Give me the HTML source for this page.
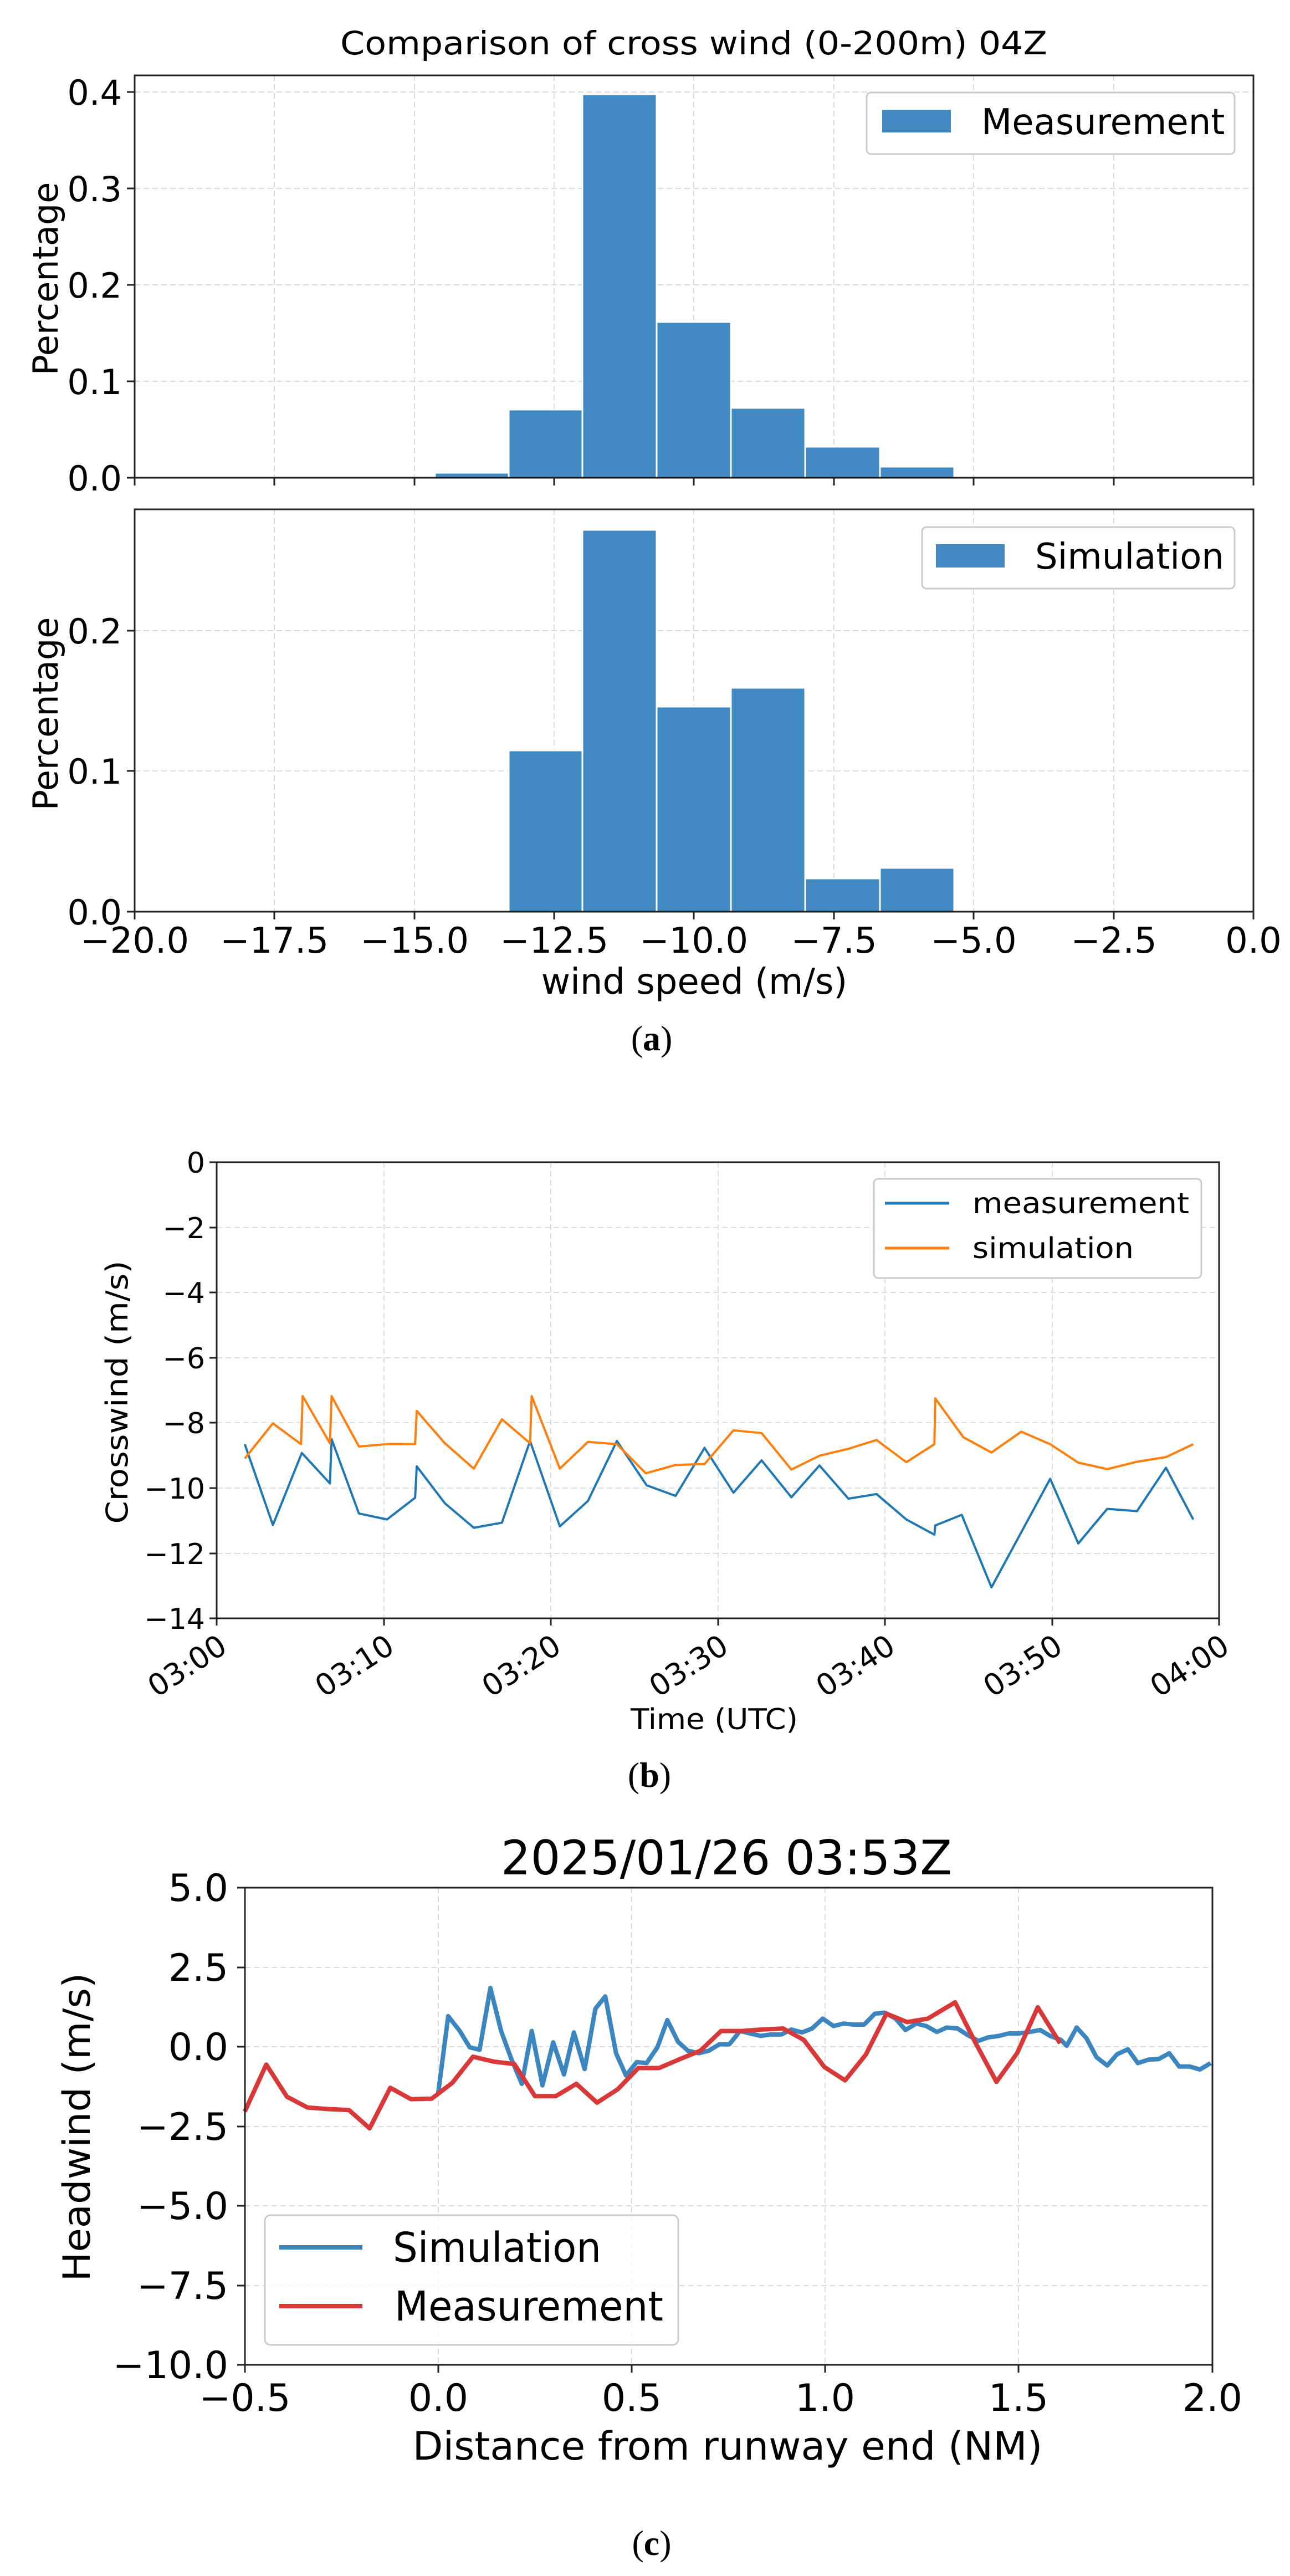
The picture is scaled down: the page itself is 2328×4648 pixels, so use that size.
<!DOCTYPE html>
<html><head><meta charset="utf-8"><style>html,body{margin:0;padding:0;background:#fff}svg{display:block}</style></head>
<body>
<svg xmlns="http://www.w3.org/2000/svg" width="2328" height="4648" viewBox="0 0 2328 4648" font-family="DejaVu Sans, Liberation Sans, sans-serif">
<rect width="2328" height="4648" fill="#fff"/>

<!-- ============ PANEL A ============ -->
<text x="1252" y="98" font-size="58" text-anchor="middle" textLength="1276" lengthAdjust="spacingAndGlyphs">Comparison of cross wind (0-200m) 04Z</text>

<g stroke="#ddd" stroke-width="2" stroke-dasharray="10,6">
<line x1="495" y1="136" x2="495" y2="862"/><line x1="748" y1="136" x2="748" y2="862"/><line x1="1000" y1="136" x2="1000" y2="862"/><line x1="1252" y1="136" x2="1252" y2="862"/><line x1="1505" y1="136" x2="1505" y2="862"/><line x1="1757" y1="136" x2="1757" y2="862"/><line x1="2010" y1="136" x2="2010" y2="862"/>
<line x1="243" y1="688" x2="2262" y2="688"/><line x1="243" y1="514" x2="2262" y2="514"/><line x1="243" y1="340" x2="2262" y2="340"/><line x1="243" y1="166" x2="2262" y2="166"/>
</g>
<g fill="#4189c1" stroke="#fff" stroke-width="3">
<rect x="785" y="853" width="133" height="9"/>
<rect x="918" y="739" width="133" height="123"/>
<rect x="1051" y="170" width="134" height="692"/>
<rect x="1185" y="581" width="134" height="281"/>
<rect x="1319" y="736" width="134" height="126"/>
<rect x="1453" y="806" width="135" height="56"/>
<rect x="1588" y="842" width="134" height="20"/>
</g>
<rect x="243" y="136" width="2019" height="726" fill="none" stroke="#222" stroke-width="3"/>
<g stroke="#222" stroke-width="3">
<line x1="243" y1="862" x2="243" y2="876"/><line x1="495" y1="862" x2="495" y2="876"/><line x1="748" y1="862" x2="748" y2="876"/><line x1="1000" y1="862" x2="1000" y2="876"/><line x1="1252" y1="862" x2="1252" y2="876"/><line x1="1505" y1="862" x2="1505" y2="876"/><line x1="1757" y1="862" x2="1757" y2="876"/><line x1="2010" y1="862" x2="2010" y2="876"/><line x1="2262" y1="862" x2="2262" y2="876"/>
<line x1="229" y1="862" x2="243" y2="862"/><line x1="229" y1="688" x2="243" y2="688"/><line x1="229" y1="514" x2="243" y2="514"/><line x1="229" y1="340" x2="243" y2="340"/><line x1="229" y1="166" x2="243" y2="166"/>
</g>
<g font-size="62" text-anchor="end">
<text x="220" y="885">0.0</text><text x="220" y="711">0.1</text><text x="220" y="537">0.2</text><text x="220" y="363">0.3</text><text x="220" y="189">0.4</text>
</g>
<text transform="translate(104,503) rotate(-90)" font-size="62" text-anchor="middle">Percentage</text>
<rect x="1564" y="167" width="664" height="111" rx="8" fill="#fff" stroke="#ccc" stroke-width="3"/>
<rect x="1592" y="198" width="124" height="41" fill="#4189c1"/>
<text x="1771" y="242" font-size="64">Measurement</text>

<g stroke="#ddd" stroke-width="2" stroke-dasharray="10,6">
<line x1="495" y1="919" x2="495" y2="1645"/><line x1="748" y1="919" x2="748" y2="1645"/><line x1="1000" y1="919" x2="1000" y2="1645"/><line x1="1252" y1="919" x2="1252" y2="1645"/><line x1="1505" y1="919" x2="1505" y2="1645"/><line x1="1757" y1="919" x2="1757" y2="1645"/><line x1="2010" y1="919" x2="2010" y2="1645"/>
<line x1="243" y1="1391" x2="2262" y2="1391"/><line x1="243" y1="1138" x2="2262" y2="1138"/>
</g>
<g fill="#4189c1" stroke="#fff" stroke-width="3">
<rect x="918" y="1354" width="133" height="291"/>
<rect x="1051" y="956" width="134" height="689"/>
<rect x="1185" y="1275" width="134" height="370"/>
<rect x="1319" y="1241" width="134" height="404"/>
<rect x="1453" y="1585" width="135" height="60"/>
<rect x="1588" y="1566" width="134" height="79"/>
</g>
<rect x="243" y="919" width="2019" height="726" fill="none" stroke="#222" stroke-width="3"/>
<g stroke="#222" stroke-width="3">
<line x1="243" y1="1645" x2="243" y2="1659"/><line x1="495" y1="1645" x2="495" y2="1659"/><line x1="748" y1="1645" x2="748" y2="1659"/><line x1="1000" y1="1645" x2="1000" y2="1659"/><line x1="1252" y1="1645" x2="1252" y2="1659"/><line x1="1505" y1="1645" x2="1505" y2="1659"/><line x1="1757" y1="1645" x2="1757" y2="1659"/><line x1="2010" y1="1645" x2="2010" y2="1659"/><line x1="2262" y1="1645" x2="2262" y2="1659"/>
<line x1="229" y1="1645" x2="243" y2="1645"/><line x1="229" y1="1391" x2="243" y2="1391"/><line x1="229" y1="1138" x2="243" y2="1138"/>
</g>
<g font-size="62" text-anchor="end">
<text x="220" y="1668">0.0</text><text x="220" y="1414">0.1</text><text x="220" y="1161">0.2</text>
</g>
<g font-size="64" text-anchor="middle">
<text x="243" y="1719">−20.0</text><text x="495" y="1719">−17.5</text><text x="748" y="1719">−15.0</text><text x="1000" y="1719">−12.5</text><text x="1252" y="1719">−10.0</text><text x="1505" y="1719">−7.5</text><text x="1757" y="1719">−5.0</text><text x="2010" y="1719">−2.5</text><text x="2262" y="1719">0.0</text>
</g>
<text x="1253" y="1793" font-size="64" text-anchor="middle">wind speed (m/s)</text>
<text transform="translate(104,1288) rotate(-90)" font-size="62" text-anchor="middle">Percentage</text>
<rect x="1664" y="951" width="564" height="111" rx="8" fill="#fff" stroke="#ccc" stroke-width="3"/>
<rect x="1689" y="982" width="124" height="42" fill="#4189c1"/>
<text x="1868" y="1026" font-size="64">Simulation</text>
<text x="1176" y="1895" font-size="64" font-family="Liberation Serif, serif" text-anchor="middle">(<tspan font-weight="bold">a</tspan>)</text>

<!-- ============ PANEL B ============ -->
<g stroke="#ddd" stroke-width="2" stroke-dasharray="10,6">
<line x1="693" y1="2097" x2="693" y2="2920"/><line x1="994" y1="2097" x2="994" y2="2920"/><line x1="1296" y1="2097" x2="1296" y2="2920"/><line x1="1597" y1="2097" x2="1597" y2="2920"/><line x1="1899" y1="2097" x2="1899" y2="2920"/>
<line x1="391" y1="2215" x2="2200" y2="2215"/><line x1="391" y1="2332" x2="2200" y2="2332"/><line x1="391" y1="2450" x2="2200" y2="2450"/><line x1="391" y1="2567" x2="2200" y2="2567"/><line x1="391" y1="2685" x2="2200" y2="2685"/><line x1="391" y1="2803" x2="2200" y2="2803"/>
</g>
<g transform="translate(0,1950) scale(1.4923,0.8333)" fill="none" stroke-linejoin="round">
<polyline vector-effect="non-scaling-stroke" stroke="#1f77b4" stroke-width="4" points="296,787 330,962 365,806 399,872 401,776 434,937 468,950 502,903 504,835 538,915 573,968 607,957 641,780 677,965 711,910 746,780 782,876 817,899 852,795 887,892 921,822 957,902 991,833 1026,905 1060,895 1096,950 1130,983 1131,963 1163,940 1199,1097 1270,862 1304,1002 1339,927 1375,932 1410,838 1443,950"/>
<polyline vector-effect="non-scaling-stroke" stroke="#ff7f0e" stroke-width="4" points="296,818 330,742 364,787 366,683 399,785 401,683 434,792 468,787 502,787 504,715 538,785 573,840 607,733 641,785 643,683 677,840 711,782 746,787 781,850 817,832 852,830 887,757 921,763 957,842 991,812 1026,797 1060,778 1096,826 1130,787 1131,688 1165,772 1199,805 1235,760 1270,787 1304,827 1339,841 1375,825 1410,815 1443,787"/>
</g>
<rect x="391" y="2097" width="1809" height="823" fill="none" stroke="#222" stroke-width="3"/>
<g stroke="#222" stroke-width="3">
<line x1="391" y1="2920" x2="391" y2="2933"/><line x1="693" y1="2920" x2="693" y2="2933"/><line x1="994" y1="2920" x2="994" y2="2933"/><line x1="1296" y1="2920" x2="1296" y2="2933"/><line x1="1597" y1="2920" x2="1597" y2="2933"/><line x1="1899" y1="2920" x2="1899" y2="2933"/><line x1="2200" y1="2920" x2="2200" y2="2933"/>
<line x1="378" y1="2097" x2="391" y2="2097"/><line x1="378" y1="2215" x2="391" y2="2215"/><line x1="378" y1="2332" x2="391" y2="2332"/><line x1="378" y1="2450" x2="391" y2="2450"/><line x1="378" y1="2567" x2="391" y2="2567"/><line x1="378" y1="2685" x2="391" y2="2685"/><line x1="378" y1="2803" x2="391" y2="2803"/><line x1="378" y1="2920" x2="391" y2="2920"/>
</g>
<g font-size="52" text-anchor="end">
<text x="370" y="2116">0</text><text x="370" y="2234">−2</text><text x="370" y="2351">−4</text><text x="370" y="2469">−6</text><text x="370" y="2586">−8</text><text x="370" y="2704">−10</text><text x="370" y="2822">−12</text><text x="370" y="2939">−14</text>
</g>
<g font-size="54" text-anchor="end">
<text transform="translate(391,2945) rotate(-33)" dy="0.75em">03:00</text>
<text transform="translate(693,2945) rotate(-33)" dy="0.75em">03:10</text>
<text transform="translate(994,2945) rotate(-33)" dy="0.75em">03:20</text>
<text transform="translate(1296,2945) rotate(-33)" dy="0.75em">03:30</text>
<text transform="translate(1597,2945) rotate(-33)" dy="0.75em">03:40</text>
<text transform="translate(1899,2945) rotate(-33)" dy="0.75em">03:50</text>
<text transform="translate(2200,2945) rotate(-33)" dy="0.75em">04:00</text>
</g>
<text x="1289" y="3120" font-size="52" text-anchor="middle" textLength="302" lengthAdjust="spacingAndGlyphs">Time (UTC)</text>
<text transform="translate(230,2512) rotate(-90)" font-size="54" text-anchor="middle" textLength="475" lengthAdjust="spacingAndGlyphs">Crosswind (m/s)</text>
<rect x="1577" y="2127" width="591" height="179" rx="8" fill="#fff" stroke="#ccc" stroke-width="3"/>
<line x1="1597" y1="2171" x2="1713" y2="2171" stroke="#1f77b4" stroke-width="5"/>
<line x1="1597" y1="2252" x2="1713" y2="2252" stroke="#ff7f0e" stroke-width="5"/>
<text x="1755" y="2189" font-size="52" textLength="391" lengthAdjust="spacingAndGlyphs">measurement</text>
<text x="1755" y="2270" font-size="52" textLength="291" lengthAdjust="spacingAndGlyphs">simulation</text>
<text x="1172" y="3224" font-size="64" font-family="Liberation Serif, serif" text-anchor="middle">(<tspan font-weight="bold">b</tspan>)</text>

<!-- ============ PANEL C ============ -->
<text x="1311" y="3382" font-size="86" text-anchor="middle" textLength="814" lengthAdjust="spacingAndGlyphs">2025/01/26 03:53Z</text>
<g stroke="#ddd" stroke-width="2" stroke-dasharray="10,6">
<line x1="791" y1="3406" x2="791" y2="4267"/><line x1="1140" y1="3406" x2="1140" y2="4267"/><line x1="1489" y1="3406" x2="1489" y2="4267"/><line x1="1838" y1="3406" x2="1838" y2="4267"/>
<line x1="442" y1="3550" x2="2188" y2="3550"/><line x1="442" y1="3693" x2="2188" y2="3693"/><line x1="442" y1="3837" x2="2188" y2="3837"/><line x1="442" y1="3980" x2="2188" y2="3980"/><line x1="442" y1="4124" x2="2188" y2="4124"/>
</g>
<g transform="translate(0,3250) scale(1.4923,0.8916)" fill="none" stroke-linejoin="round">
<polyline vector-effect="non-scaling-stroke" stroke="#3c86c0" stroke-width="8" points="530,590 542,435 556,465 568,498 580,503 593,378 606,465 618,520 631,572 643,465 656,575 669,488 682,553 694,468 707,542 720,420 732,395 745,510 757,555 770,528 782,530 795,498 807,443 820,487 832,505 845,510 857,505 870,492 882,492 895,465 907,470 920,475 932,472 945,472 957,462 970,468 982,460 995,440 1008,455 1020,450 1032,452 1045,452 1058,430 1070,428 1083,440 1095,463 1108,450 1120,455 1133,467 1145,458 1158,460 1170,473 1183,485 1195,478 1208,475 1220,470 1232,470 1245,467 1258,463 1270,475 1283,483 1290,495 1302,458 1314,480 1326,518 1339,535 1351,512 1364,502 1376,530 1389,523 1401,522 1414,510 1426,537 1439,537 1451,543 1464,530"/>
<polyline vector-effect="non-scaling-stroke" stroke="#d93838" stroke-width="8" points="296,628 322,533 347,598 372,620 397,623 422,625 447,662 472,580 497,603 522,602 547,570 572,517 597,527 622,532 647,597 672,597 697,572 722,610 747,583 772,540 797,540 822,522 847,505 872,465 897,465 922,462 947,460 972,483 997,538 1022,565 1047,513 1072,430 1097,447 1122,440 1155,407 1180,490 1205,568 1230,510 1255,417 1282,490"/>
</g>
<rect x="442" y="3406" width="1746" height="861" fill="none" stroke="#222" stroke-width="3"/>
<g stroke="#222" stroke-width="3">
<line x1="442" y1="4267" x2="442" y2="4281"/><line x1="791" y1="4267" x2="791" y2="4281"/><line x1="1140" y1="4267" x2="1140" y2="4281"/><line x1="1489" y1="4267" x2="1489" y2="4281"/><line x1="1838" y1="4267" x2="1838" y2="4281"/><line x1="2188" y1="4267" x2="2188" y2="4281"/>
<line x1="428" y1="3406" x2="442" y2="3406"/><line x1="428" y1="3550" x2="442" y2="3550"/><line x1="428" y1="3693" x2="442" y2="3693"/><line x1="428" y1="3837" x2="442" y2="3837"/><line x1="428" y1="3980" x2="442" y2="3980"/><line x1="428" y1="4124" x2="442" y2="4124"/><line x1="428" y1="4267" x2="442" y2="4267"/>
</g>
<g font-size="68" text-anchor="end">
<text x="412" y="3430">5.0</text><text x="412" y="3574">2.5</text><text x="412" y="3717">0.0</text><text x="412" y="3861">−2.5</text><text x="412" y="4004">−5.0</text><text x="412" y="4148">−7.5</text><text x="412" y="4291">−10.0</text>
</g>
<g font-size="68" text-anchor="middle">
<text x="442" y="4350">−0.5</text><text x="791" y="4350">0.0</text><text x="1140" y="4350">0.5</text><text x="1489" y="4350">1.0</text><text x="1838" y="4350">1.5</text><text x="2188" y="4350">2.0</text>
</g>
<text x="1313" y="4438" font-size="70" text-anchor="middle" textLength="1137" lengthAdjust="spacingAndGlyphs">Distance from runway end (NM)</text>
<text transform="translate(162,3838) rotate(-90)" font-size="68" text-anchor="middle" textLength="557" lengthAdjust="spacingAndGlyphs">Headwind (m/s)</text>
<rect x="478" y="3997" width="746" height="234" rx="10" fill="#fff" fill-opacity="0.8" stroke="#ccc" stroke-width="3"/>
<line x1="504" y1="4055" x2="654" y2="4055" stroke="#3c86c0" stroke-width="8"/>
<line x1="504" y1="4161" x2="654" y2="4161" stroke="#d93838" stroke-width="8"/>
<text x="709" y="4081" font-size="74" textLength="376" lengthAdjust="spacingAndGlyphs">Simulation</text>
<text x="712" y="4187" font-size="74" textLength="485" lengthAdjust="spacingAndGlyphs">Measurement</text>
<text x="1176" y="4610" font-size="64" font-family="Liberation Serif, serif" text-anchor="middle">(<tspan font-weight="bold">c</tspan>)</text>
</svg>
</body></html>
